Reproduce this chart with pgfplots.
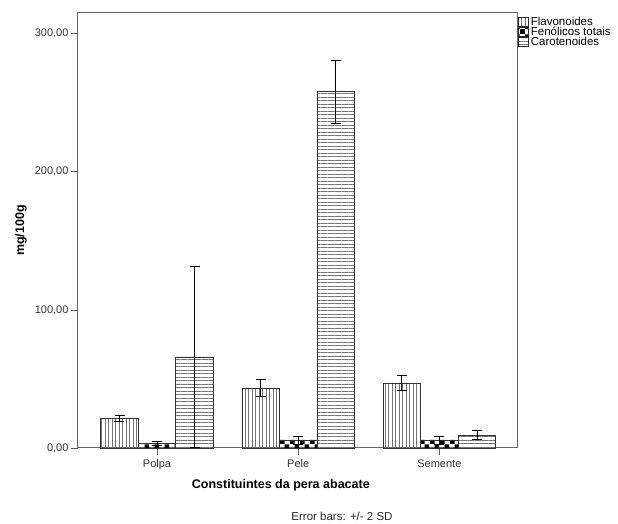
\documentclass[border=0pt]{standalone}
\usepackage{pgfplots}
\pgfplotsset{compat=1.18}
\usepackage{pgfplotstable}
\usepackage{fontspec}
\setmainfont{Liberation Sans}
\usetikzlibrary{patterns,patterns.meta}
\pgfdeclarepatternformonly{mycheck}{\pgfqpoint{0pt}{0pt}}{\pgfqpoint{10pt}{10pt}}{\pgfqpoint{10pt}{10pt}}{%
  \pgfpathrectangle{\pgfqpoint{0pt}{0pt}}{\pgfqpoint{5pt}{5pt}}%
  \pgfpathrectangle{\pgfqpoint{5pt}{5pt}}{\pgfqpoint{5pt}{5pt}}%
  \pgfusepath{fill}}

% x positions of the three bars in each group (group centres 0,1,2; bar width 0.266)
\pgfplotstableread{
xF      xP  xC     F     Fe   P    Pe   C     Ce
-0.266  0   0.266  21.7  2.2  3.6  1.5  66.0  65.5
0.734   1   1.266  43.5  6.3  5.8  2.9  258.0 23.0
1.734   2   2.266  47.1  5.5  5.8  2.9  9.4   3.3
}\data

\begin{document}
\begin{tikzpicture}
\begin{axis}[
  scale only axis, width=439pt, height=435pt,
  xmin=-0.56, xmax=2.55, ymin=0, ymax=315,
  clip=false,
  xtick={0,1,2}, xticklabels={Polpa,Pele,Semente},
  ytick={0,100,200,300}, yticklabels={{0,00},{100,00},{200,00},{300,00}},
  xtick pos=bottom, ytick pos=left,
  tick align=outside, major tick length=7pt,
  tick style={black!65, line width=0.8pt},
  axis line style={black!60, line width=1pt},
  ticklabel style={font=\fontsize{11}{13}\selectfont, text=black!80},
  xticklabel style={yshift=-1pt},
  yticklabel style={xshift=1pt},
  xlabel={Constituintes da pera abacate},
  xlabel style={font=\bfseries\fontsize{12.5}{14}\selectfont, at={(axis description cs:0.462,-0.085)}, anchor=center},
  ylabel={mg/100g},
  ylabel style={font=\bfseries\fontsize{12.5}{14}\selectfont, at={(axis description cs:-0.13,0.5)}, anchor=center},
  legend style={at={(1,1)}, anchor=north west, draw=none, fill=none,
    font=\fontsize{11.5}{11}\selectfont, inner xsep=1pt, inner ysep=4pt,
    nodes={inner sep=0pt, text height=8pt, text depth=2pt}, row sep=0pt},
  legend cell align=left,
  mylegend/.style={legend image code/.code={\draw[##1, draw=black!85, line width=0.6pt] (1pt,-4.5pt) rectangle (11pt,4.5pt); \path (13pt,0pt);}},
  errstyle/.style={error bars/.cd, y dir=both, y explicit,
    error bar style={black, line width=0.7pt},
    error mark options={rotate=90, mark size=5pt, black, line width=0.7pt}},
]
\addplot[ybar, mylegend, bar width=0.266, bar shift=0, draw=black!80, line width=0.7pt,
  pattern={Lines[angle=90,distance=3.5pt,line width=0.9pt]}, pattern color=black!55, errstyle]
  table[x=xF, y=F, y error=Fe] {\data};
\addlegendentry{Flavonoides}
\addplot[ybar, mylegend, bar width=0.266, bar shift=0, draw=black!80, line width=0.7pt,
  pattern=mycheck, pattern color=black, errstyle]
  table[x=xP, y=P, y error=Pe] {\data};
\addlegendentry{Fenólicos totais}
\addplot[ybar, mylegend, bar width=0.266, bar shift=0, draw=black!80, line width=0.7pt,
  pattern={Lines[angle=0,distance=3.5pt,line width=0.9pt]}, pattern color=black!55, errstyle]
  table[x=xC, y=C, y error=Ce] {\data};
\addlegendentry{Carotenoides}
\end{axis}
\node[font=\fontsize{11.5}{13}\selectfont, text=black!85, anchor=center] at ([xshift=264pt, yshift=-68pt]current axis.south west) {Error bars: +/- 2 SD};
\path ([xshift=-78pt, yshift=-76pt]current axis.south west) rectangle ++(618pt,524pt);
\end{tikzpicture}
\end{document}
